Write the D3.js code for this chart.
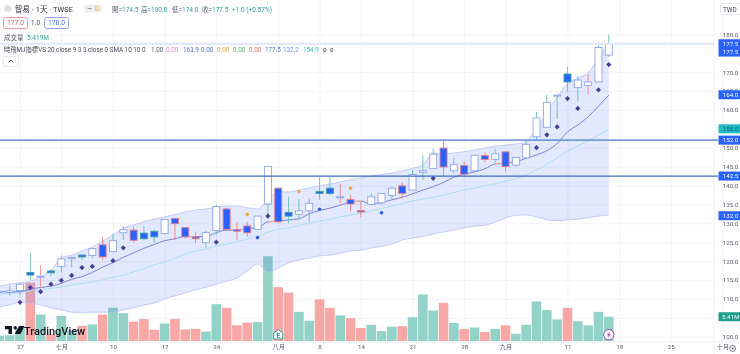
<!DOCTYPE html>
<html>
<head>
<meta charset="utf-8">
<script src="https://cdn.jsdelivr.net/npm/d3@7"></script>
<style>
    html, body { margin: 0; padding: 0; background: #fff; overflow: hidden; }
    svg { display: block; font-family: Roboto, "Noto Sans CJK TC", sans-serif; filter: blur(0.4px); }
    .axis path.domain { display: none; }
    .axis text { fill: #555b66; font-size: 6.2px; font-family: Roboto, "Noto Sans CJK TC", sans-serif; }
    .grid line { stroke: #f3f4f8; }
    .grid text, .grid path.domain { display: none; }
</style>
</head>
<body>
<div id="chart"></div>
<script>
// trading days, 0 = June 27, -2 and -1 are cut by the left edge
const days = [-2,-1,0,1,2,3,4,5,6,7,8,9,10,11,12,13,14,15,16,17,18,19,20,21,22,23,24,25,26,27,28,29,30,31,32,33,34,35,36,37,38,39,40,41,42,43,44,45,46,47,48,49,50,51,52,53,54,55,56,57];

const opens = [111.7,111.7,112.2,117.0,115.8,117.4,118.6,120.7,121.6,121.5,124.3,122.5,127.5,128.2,127.4,127.9,127.3,131.3,128.9,126.4,124.9,128.1,133.8,128.3,129.3,128.4,135.1,139.3,132.9,132.4,133.3,138.4,139.3,136.8,136.3,133.4,135.0,135.4,137.4,139.9,138.8,143.5,144.5,149.9,143.9,145.3,143.9,147.9,146.9,148.9,145.4,147.3,152.9,155.4,163.7,169.5,165.9,166.5,167.4,174.5];
const highs = [112.3,113.4,114.1,122.1,118.8,117.8,121.5,121.0,121.9,123.4,126.4,127.3,129.3,129.1,129.3,128.3,131.0,131.4,129.0,127.8,128.0,135.0,134.0,130.4,130.4,132.0,145.0,139.4,137.0,136.4,136.4,142.3,142.3,140.4,137.5,135.7,137.9,137.9,139.7,140.8,144.1,148.0,149.8,152.0,147.5,146.3,148.0,148.8,149.8,149.0,147.6,152.0,159.4,164.0,164.0,171.4,169.0,169.4,177.9,180.0];
const lows = [111.6,111.0,111.0,115.0,112.8,116.1,117.0,118.3,120.3,120.8,120.3,122.5,125.6,124.9,125.5,124.9,127.3,125.6,126.0,124.7,123.5,126.9,128.0,125.6,126.5,128.3,132.2,130.0,130.0,131.0,130.4,136.2,137.5,135.3,133.1,131.5,134.7,135.0,136.2,136.6,138.8,141.5,144.5,142.5,143.2,142.2,143.9,146.1,146.0,143.7,145.1,147.3,152.0,155.4,157.6,164.8,162.3,164.1,167.4,174.0];
const closes = [112.0,112.1,113.9,116.3,116.0,116.9,120.6,121.0,121.1,123.3,121.1,125.4,128.3,125.5,125.9,126.4,131.0,129.9,126.4,125.9,127.5,134.4,128.4,127.9,127.5,131.9,145.0,130.4,131.9,133.3,135.3,137.9,137.9,137.0,135.1,133.0,137.0,137.9,139.3,137.9,142.9,143.9,148.3,144.9,145.5,143.0,148.0,146.9,148.4,145.0,147.4,150.9,157.9,162.0,163.9,167.4,167.9,167.4,176.5,177.5];
const volumes = [1.2,1.3,2.8,13.0,5.9,1.5,5.6,2.4,3.4,3.7,5.9,7.4,6.2,4.3,4.9,2.5,3.9,4.9,2.6,2.7,2.1,8.2,7.4,3.5,4.1,4.2,18.9,12.0,10.8,6.5,4.5,9.3,7.4,5.7,5.1,2.9,3.6,2.2,3.2,3.3,5.3,10.4,6.8,8.5,4.0,2.7,3.0,2.0,2.7,3.5,1.6,3.6,8.8,6.9,4.8,7.4,4.4,3.5,6.5,5.41];

const upperBand = [113.4,113.9,114.2,114.7,115.8,117.6,120.8,121.6,122.7,123.7,125.3,126.9,128.7,129.6,130.4,131.1,131.7,132.3,133.0,133.5,133.8,134.3,134.6,134.6,134.1,133.8,136.2,138.3,138.3,138.8,139.3,139.9,140.4,140.9,141.5,142.0,142.5,142.9,143.3,143.8,144.6,145.4,148.6,148.3,148.6,148.9,149.4,149.9,150.4,150.7,151.0,151.6,155.2,159.2,163.4,166.9,168.4,169.8,173.7,177.5];
const lowerBand = [107.9,108.4,109.2,108.9,108.4,107.6,107.1,106.5,106.4,106.5,106.5,106.5,107.1,107.6,108.4,108.9,110.0,110.8,111.6,112.4,113.1,113.9,114.7,115.5,117.4,119.2,117.1,118.2,119.5,120.3,120.8,121.4,121.6,122.1,122.7,122.9,123.5,123.9,124.5,125.6,126.1,126.5,127.2,127.7,128.2,128.8,129.2,129.5,130.3,131.4,132.1,132.2,131.7,130.9,130.7,130.9,131.1,131.5,131.9,132.2];
const basisLine = [111.9,111.9,111.9,112.6,113.0,113.4,114.1,115.2,115.9,117.0,118.4,119.6,121.0,122.2,123.4,124.4,125.4,125.9,126.5,126.5,126.5,127.5,128.2,128.2,128.6,128.8,130.4,130.6,130.9,131.2,132.5,133.4,134.0,134.8,135.6,135.9,135.1,135.5,136.2,136.9,137.8,138.8,139.7,140.8,142.2,143.0,143.6,144.4,145.7,145.9,146.3,147.2,148.1,149.2,151.1,154.2,156.0,158.2,161.0,163.9];
const slowLine = [111.3,111.5,111.8,112.1,112.4,112.8,113.1,113.7,114.1,114.5,115.0,115.8,116.3,117.1,118.0,119.0,119.8,120.7,121.9,122.7,123.2,124.0,124.5,125.2,125.8,126.6,127.6,128.5,128.8,129.4,130.1,130.6,131.1,131.7,132.2,132.7,133.3,133.9,134.6,135.2,135.9,136.4,136.9,137.5,138.1,138.8,139.3,139.9,140.4,141.2,141.8,142.8,144.1,145.6,147.4,149.1,150.5,151.8,153.4,154.9];
const warmSegments = [[16,17],[21,22],[24,25],[32,33],[46,47]];

const diamondDays = [0,1,2,3,4,5,6,7,9,10,19,24,40,50,51,52,53,54,56,57];
const diamondPrices = [109.1,113.0,111.9,113.9,114.9,116.2,118.3,118.6,120.1,123.5,125.0,131.9,141.9,150.0,153.4,155.5,163.0,160.4,165.3,172.0];
const blueDotDays = [23,29,35];
const blueDotPrices = [126.2,133.7,132.8];
const orangeDotDays = [22,27,32];
const orangeDotPrices = [132.4,138.4,139.3];

const priceTicks = [180,170,165,160,150,145,140,135,130,125,120,115,110,105,100];
const dateTickDays = [0,4,9,14,19,25,29,33,38,43,47,53,58,63,68];
const dateTickLabels = ["27","七月","10","17","24","八月","8","14","21","28","九月","11","18","25","十月"];

const levelPrices = [152, 142.5];
const tagLabels = ["177.5","177.5","164.0","155.0","152.0","142.5","132.0"];
const tagPrices = [177.5,175.3,164.0,155.0,152.0,142.5,132.0];
const tagColors = ["#2962ff","#2962ff","#2962ff","#22b8c4","#2962ff","#2962ff","#2962ff"];
const tagTextColors = ["#fff","#fff","#fff","#0b5f66","#fff","#fff","#fff"];

const headerLabels = ["開","高","低","收"];
const headerValues = ["174.5","180.0","174.0","177.5"];
const indicatorValues = ["1.00","0.00","163.9","0.00","0.00","0.00","0.00","177.5","132.2","154.9","ø","ø"];
const indicatorColors = ["#555b66","#ec7fd0","#5a6fd0","#5a6fd0","#f0a83a","#63b56f","#e8706f","#5a6fd0","#6f8fe8","#3fc0d0","#555b66","#555b66"];
const indicatorX = [151,166,183,201,217,233,249,265,283,303,323,330];

const width = 740, height = 354;
const paneRight = 714, paneBottom = 342;
const teal = "#3fa79b", pink = "#e77f86", wickTeal = "#74c5b6", wickPink = "#ee8b90";

const svg = d3.select("#chart").append("svg")
    .attr("width", width)
    .attr("height", height);

const x = d3.scaleLinear().domain([-2, 68]).range([-0.66, 722.44]);
const y = d3.scaleLinear().domain([100, 180]).range([336.7, 34.3]);
const yVolume = d3.scaleLinear().domain([0, 22.29]).range([341, 241]);

// Grid
svg.append("g").attr("class", "grid")
    .attr("transform", `translate(0, ${paneBottom})`)
    .call(d3.axisBottom(x).tickValues(dateTickDays).tickSize(-paneBottom));
svg.append("g").attr("class", "grid")
    .call(d3.axisLeft(y).tickValues(priceTicks).tickSize(-paneRight));
svg.append("line").attr("x1", paneRight).attr("x2", paneRight).attr("y1", 0).attr("y2", height).attr("stroke", "#eef0f4");
svg.append("line").attr("x1", 0).attr("x2", width).attr("y1", paneBottom).attr("y2", paneBottom).attr("stroke", "#eef0f4");

// Volume
svg.append("g").selectAll("rect")
    .data(days)
    .join("rect")
    .attr("x", d => x(d) - 4.8)
    .attr("width", 9.6)
    .attr("y", (d, i) => yVolume(volumes[i]))
    .attr("height", (d, i) => yVolume(0) - yVolume(volumes[i]))
    .attr("fill", (d, i) => closes[i] < opens[i] ? "#f7a8a6" : "#92d2c7");

// Band
const band = d3.area()
    .x((d, i) => x(days[i]))
    .y0((d, i) => y(lowerBand[i]))
    .y1(d => y(d))
    .curve(d3.curveMonotoneX);
svg.append("path").attr("d", band(upperBand)).attr("fill", "rgba(72,110,240,0.16)");

const line = d3.line().x((d, i) => x(days[i])).y(d => y(d)).curve(d3.curveMonotoneX);
svg.append("path").attr("d", line(upperBand)).attr("fill", "none").attr("stroke", "#b6c2f2").attr("stroke-width", 0.8);
svg.append("path").attr("d", line(lowerBand)).attr("fill", "none").attr("stroke", "#b6c2f2").attr("stroke-width", 0.8);
svg.append("path").attr("d", line(slowLine)).attr("fill", "none").attr("stroke", "#a5dce8").attr("stroke-width", 0.9);
svg.append("path").attr("d", line(basisLine)).attr("fill", "none").attr("stroke", "#7d82da").attr("stroke-width", 1);

// short tan pieces of the basis line
svg.append("g").selectAll("line")
    .data(warmSegments)
    .join("line")
    .attr("x1", d => x(d[0]))
    .attr("x2", d => x(d[1]))
    .attr("y1", d => y(basisLine[days.indexOf(d[0])]))
    .attr("y2", d => y(basisLine[days.indexOf(d[1])]))
    .attr("stroke", "#eeb08f")
    .attr("stroke-width", 1);

// Candles, wick colour follows the previous close, body fill follows the open
const candles = svg.append("g");
days.forEach((d, i) => {
    const up = i === 0 || closes[i] >= closes[i - 1];
    const solid = closes[i] < opens[i];
    candles.append("line")
        .attr("x1", x(d)).attr("x2", x(d))
        .attr("y1", y(highs[i])).attr("y2", y(lows[i]))
        .attr("stroke", up ? wickTeal : wickPink)
        .attr("stroke-width", 1);
    candles.append("rect")
        .attr("x", x(d) - 3.5)
        .attr("width", 7)
        .attr("y", y(Math.max(opens[i], closes[i])))
        .attr("height", Math.max(1, Math.abs(y(opens[i]) - y(closes[i]))))
        .attr("fill", solid ? "#2962ff" : "#fff")
        .attr("stroke", solid ? (up ? teal : pink) : "#8ea4ee")
        .attr("stroke-width", 0.9);
});

// Signals
const diamond = d3.symbol(d3.symbolDiamond, 8);
svg.append("g").selectAll("path")
    .data(diamondDays)
    .join("path")
    .attr("d", diamond)
    .attr("transform", (d, i) => `translate(${x(d)}, ${y(diamondPrices[i])}) scale(1.7, 1)`)
    .attr("fill", "#463f98");
svg.append("g").selectAll("circle")
    .data(blueDotDays)
    .join("circle")
    .attr("cx", d => x(d))
    .attr("cy", (d, i) => y(blueDotPrices[i]))
    .attr("r", 1.8)
    .attr("fill", "#2f62d6");
svg.append("g").selectAll("circle")
    .data(orangeDotDays)
    .join("circle")
    .attr("cx", d => x(d))
    .attr("cy", (d, i) => y(orangeDotPrices[i]))
    .attr("r", 1.8)
    .attr("fill", "#f2ab3c");

// Level lines
svg.append("line").attr("x1", 0).attr("x2", paneRight).attr("y1", y(177.5)).attr("y2", y(177.5))
    .attr("stroke", "#dfe6fb").attr("stroke-width", 2);
svg.append("line").attr("x1", 0).attr("x2", paneRight + 4).attr("y1", y(levelPrices[0])).attr("y2", y(levelPrices[0]))
    .attr("stroke", "#7a9ad8").attr("stroke-width", 1.8);
svg.append("line").attr("x1", 0).attr("x2", paneRight + 4).attr("y1", y(levelPrices[1])).attr("y2", y(levelPrices[1]))
    .attr("stroke", "#4169c8").attr("stroke-width", 1.2);

// Axes
svg.append("g").attr("class", "axis")
    .attr("transform", `translate(0, ${paneBottom})`)
    .call(d3.axisBottom(x).tickValues(dateTickDays).tickSize(0).tickPadding(3)
        .tickFormat((d, i) => dateTickLabels[i]));
svg.append("g").attr("class", "axis")
    .attr("transform", `translate(${paneRight}, 0)`)
    .call(d3.axisRight(y).tickValues(priceTicks).tickSize(0).tickPadding(8.7)
        .tickFormat(d3.format(".1f")));

// Price tags
const tags = svg.append("g").selectAll("g")
    .data(tagLabels)
    .join("g")
    .attr("transform", (d, i) => `translate(718.5, ${y(tagPrices[i])})`);
tags.append("rect")
    .attr("y", -4.5).attr("width", 21.5).attr("height", 9)
    .attr("fill", (d, i) => tagColors[i]);
tags.append("text")
    .attr("x", 4.2).attr("dy", "0.35em")
    .attr("font-size", 6.2)
    .attr("fill", (d, i) => tagTextColors[i])
    .text(d => d);

const volumeTag = svg.append("g").attr("transform", `translate(718.5, ${yVolume(volumes[volumes.length - 1])})`);
volumeTag.append("rect").attr("y", -4.5).attr("width", 21.5).attr("height", 9).attr("fill", "#1f9e8f");
volumeTag.append("text").attr("x", 3.5).attr("dy", "0.35em").attr("font-size", 6.2).attr("fill", "#fff").text("5.41M");

// Earnings and dividend markers
const eMark = svg.append("g").attr("transform", `translate(${x(25)}, 334.5)`);
eMark.append("path")
    .attr("d", "M-4.5,-1.5 L0,-5 L4.5,-1.5 L4.5,4.5 L-4.5,4.5 Z")
    .attr("fill", "#fff").attr("stroke", "#2f9f92").attr("stroke-width", 1);
eMark.append("text").attr("text-anchor", "middle").attr("y", 3).attr("font-size", 6.5).attr("font-weight", 700).attr("fill", "#2f9f92").text("E");

const boltMark = svg.append("g").attr("transform", `translate(${x(57)}, 334.8)`);
boltMark.append("circle").attr("r", 5.2).attr("fill", "#fff").attr("stroke", "#9c3fc0").attr("stroke-width", 1);
boltMark.append("path").attr("d", "M1,-3 L-2,0.6 L-0.2,0.6 L-1,3 L2,-0.6 L0.2,-0.6 Z").attr("fill", "#9c3fc0");

// TradingView logo
const logo = svg.append("g").attr("transform", "translate(5, 326)").attr("fill", "#131722");
logo.append("path").attr("d", "M0,0 H7 V8 H3.5 V3.3 H0 Z");
logo.append("circle").attr("cx", 10.2).attr("cy", 1.7).attr("r", 1.7);
logo.append("path").attr("d", "M14,0 H19.5 L15.5,8 H9.7 Z");
svg.append("text").attr("x", 24).attr("y", 334.5)
    .attr("font-size", 11).attr("font-weight", 500).attr("fill", "#131722")
    .text("TradingView");

// Header
svg.append("circle").attr("cx", 8).attr("cy", 8.5).attr("r", 3.6).attr("fill", "#dfe1e6");
svg.append("text").attr("x", 15).attr("y", 11.5).attr("font-size", 7.5).attr("fill", "#2a2e39").text("智易 · 1天 · TWSE");
svg.append("rect").attr("x", 84).attr("y", 4.5).attr("width", 18).attr("height", 8).attr("rx", 2.5).attr("fill", "#eceef2");
svg.append("text").attr("x", 87).attr("y", 11).attr("font-size", 6.5).attr("fill", "#555b66").text("—");
svg.append("text").attr("x", 95).attr("y", 11).attr("font-size", 6.5).attr("fill", "#f0a83a").text("D");

const headerX = [112, 141, 172, 202];
headerLabels.forEach((label, i) => {
    svg.append("text").attr("x", headerX[i]).attr("y", 11.5).attr("font-size", 6.5).attr("fill", "#555b66").text(label + "=");
    svg.append("text").attr("x", headerX[i] + 10).attr("y", 11.5).attr("font-size", 6.5).attr("fill", "#2fa394").text(headerValues[i]);
});
svg.append("text").attr("x", 232).attr("y", 11.5).attr("font-size", 6.5).attr("fill", "#2fa394").text("+1.0 (+0.57%)");

svg.append("rect").attr("x", 3.5).attr("y", 17.5).attr("width", 24).attr("height", 11).attr("rx", 2).attr("fill", "#fff").attr("stroke", "#ef9aa2");
svg.append("text").attr("x", 15.5).attr("y", 25.2).attr("text-anchor", "middle").attr("font-size", 6.8).attr("fill", "#e0606e").text("177.0");
svg.append("text").attr("x", 35.5).attr("y", 25.2).attr("text-anchor", "middle").attr("font-size", 6.8).attr("fill", "#555b66").text("1.0");
svg.append("rect").attr("x", 44.5).attr("y", 17.5).attr("width", 24).attr("height", 11).attr("rx", 2).attr("fill", "#fff").attr("stroke", "#8ea0ec");
svg.append("text").attr("x", 56.5).attr("y", 25.2).attr("text-anchor", "middle").attr("font-size", 6.8).attr("fill", "#4a6fe0").text("178.0");

svg.append("text").attr("x", 4).attr("y", 39.5).attr("font-size", 6.5).attr("fill", "#555b66").text("成交量");
svg.append("text").attr("x", 27).attr("y", 39.5).attr("font-size", 6.5).attr("fill", "#2fa394").text("5.419M");

svg.append("text").attr("x", 4).attr("y", 51.5).attr("font-size", 6.3).attr("fill", "#444a55").text("時飛MJ指標VS 20 close 9 3 3 close 0 SMA 10 10 0");
svg.append("g").selectAll("text")
    .data(indicatorValues)
    .join("text")
    .attr("x", (d, i) => indicatorX[i])
    .attr("y", 51.5)
    .attr("font-size", 6.3)
    .attr("fill", (d, i) => indicatorColors[i])
    .text(d => d);

svg.append("rect").attr("x", 3.5).attr("y", 56.5).attr("width", 15).attr("height", 10).attr("rx", 2).attr("fill", "#fff").attr("stroke", "#e3e5ea");
svg.append("path").attr("d", "M8.5,62.5 L11,60 L13.5,62.5").attr("fill", "none").attr("stroke", "#444a55").attr("stroke-width", 0.9);

// Currency box and settings
svg.append("rect").attr("x", 720.5).attr("y", 3.5).attr("width", 22).attr("height", 11).attr("rx", 2).attr("fill", "#fff").attr("stroke", "#e3e5ea");
svg.append("text").attr("x", 723).attr("y", 11.5).attr("font-size", 6.4).attr("fill", "#444a55").text("TWD");
svg.append("circle").attr("cx", 732.7).attr("cy", 348.5).attr("r", 3).attr("fill", "none").attr("stroke", "#555b66").attr("stroke-width", 0.8);
svg.append("circle").attr("cx", 732.7).attr("cy", 348.5).attr("r", 1).attr("fill", "#555b66");
</script>
</body>
</html>
